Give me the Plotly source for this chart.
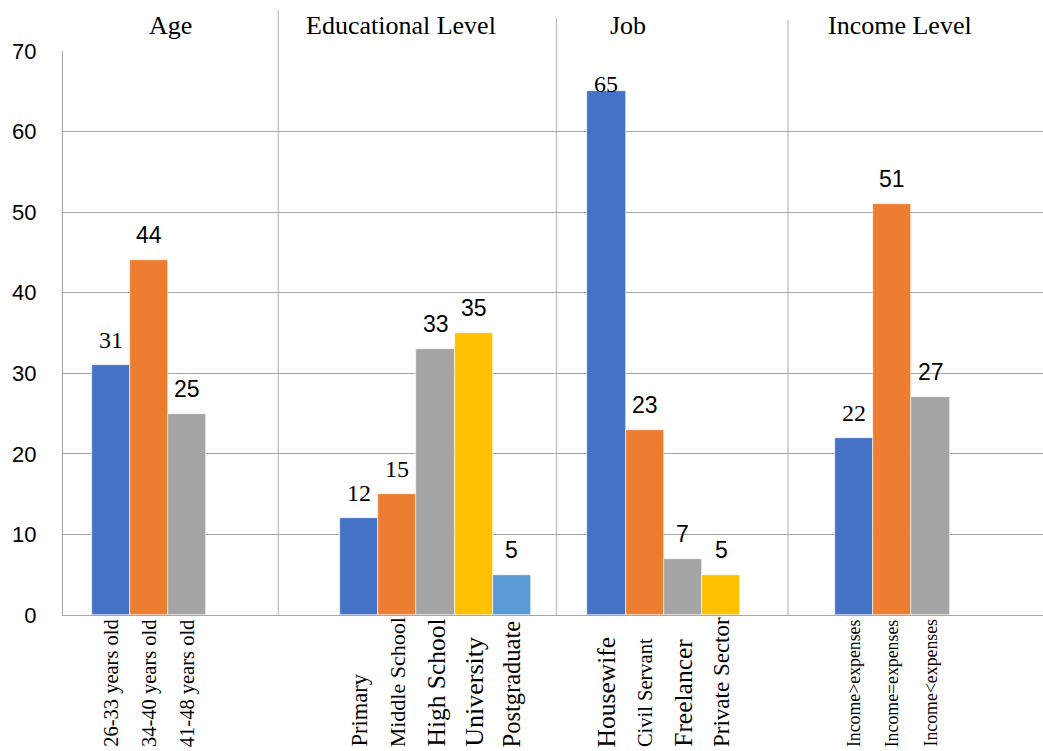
import plotly.graph_objects as go

# ---------------- data ----------------
group_titles = ["Age", "Educational Level", "Job", "Income Level"]

age_labels = ["26-33 years old", "34-40 years old", "41-48 years old"]
age_values = [31, 44, 25]

edu_labels = ["Primary", "Middle School", "High School", "University", "Postgraduate"]
edu_values = [12, 15, 33, 35, 5]

job_labels = ["Housewife", "Civil Servant", "Freelancer", "Private Sector"]
job_values = [65, 23, 7, 5]

income_labels = ["Income>expenses", "Income=expenses", "Income<expenses"]
income_values = [22, 51, 27]

y_ticks = [0, 10, 20, 30, 40, 50, 60, 70]

# ---------------- layout / style ----------------
PALETTE = ["#4472C4", "#ED7D31", "#A5A5A5", "#FFC000", "#5B9BD5"]
BAR_W = 38.2
group_starts = [91.7, 340.0, 587.3, 835.0]          # left edge of the first bar in each group (x units = px)
separators = [278.3, 556.5, 788.0]
separator_tops = [10, 18, 20]                         # px from top of figure
title_centers = [170, 401, 628, 900]
SERIF = "Liberation Serif"
SANS = "Liberation Sans"

# per-label font sizes for category labels (style only)
label_sizes = [
    [20.5, 20.5, 20.5],
    [22.5, 22, 25.5, 26, 24.5],
    [25.5, 20.5, 25.5, 23],
    [17.8, 17.8, 17.8],
]
# value-label font families (style only)
value_fonts = [
    [SERIF, SANS, SANS],
    [SERIF, SERIF, SANS, SANS, SANS],
    [SERIF, SANS, SANS, SANS],
    [SERIF, SANS, SANS],
]
value_shift = [
    [25, 25, 25],
    [25, 25, 25, 25, 25],
    [7, 25, 25, 25],
    [25, 25, 25],
]

groups = [
    (age_labels, age_values),
    (edu_labels, edu_values),
    (job_labels, job_values),
    (income_labels, income_values),
]

W, H = 1043, 751
M_L, M_R, M_T, M_B = 63, 0, 51, 136
plot_h = H - M_T - M_B
LABEL_BOTTOM = 749   # px from top where rotated category labels start

fig = go.Figure()
annotations = []
for g, (labels, values) in enumerate(groups):
    xs = [group_starts[g] + (i + 0.5) * BAR_W for i in range(len(values))]
    fig.add_trace(go.Bar(
        x=xs, y=values, width=BAR_W,
        marker=dict(color=PALETTE[:len(values)], line=dict(color="white", width=0.6)),
        showlegend=False, hoverinfo="skip",
    ))
    for i, (xv, v, lab) in enumerate(zip(xs, values, labels)):
        fam = value_fonts[g][i]
        annotations.append(dict(
            x=xv, y=v, xref="x", yref="y", text=str(v), showarrow=False,
            yanchor="middle", xanchor="center", yshift=value_shift[g][i],
            font=dict(family=fam, size=24 if fam == SERIF else 23, color="black"),
        ))
        annotations.append(dict(
            x=xv, y=0, xref="x", yref="paper", text=lab, showarrow=False,
            textangle=-90, yanchor="bottom", xanchor="center",
            yshift=-(LABEL_BOTTOM - (H - M_B)),
            font=dict(family=SERIF, size=label_sizes[g][i], color="black"),
        ))
    annotations.append(dict(
        x=title_centers[g], y=1, xref="x", yref="paper", text=group_titles[g],
        showarrow=False, yanchor="middle", xanchor="center", yshift=M_T - 25,
        font=dict(family=SERIF, size=26, color="black"),
    ))

shapes = []
for sx, top in zip(separators, separator_tops):
    shapes.append(dict(
        type="line", xref="x", yref="paper", x0=sx, x1=sx,
        y0=0, y1=1 + (M_T - top) / plot_h,
        line=dict(color="#BFBFBF", width=1.3), layer="below",
    ))

fig.update_layout(
    width=W, height=H,
    margin=dict(l=M_L, r=M_R, t=M_T, b=M_B, pad=0),
    paper_bgcolor="white", plot_bgcolor="white",
    bargap=0, showlegend=False,
    annotations=annotations, shapes=shapes,
    xaxis=dict(range=[M_L, W], showgrid=False, showticklabels=False, zeroline=False,
               showline=True, linecolor="#A6A6A6", linewidth=1.3, ticks="", fixedrange=True),
    yaxis=dict(range=[0, 70], tickvals=y_ticks, showgrid=True, gridcolor="#A6A6A6", gridwidth=1.2,
               zeroline=False, showline=True, linecolor="#A6A6A6", linewidth=1.3,
               ticks="", ticklabelstandoff=21,
               tickfont=dict(family=SANS, size=22, color="black"), fixedrange=True),
)

fig.write_html("out.html")
